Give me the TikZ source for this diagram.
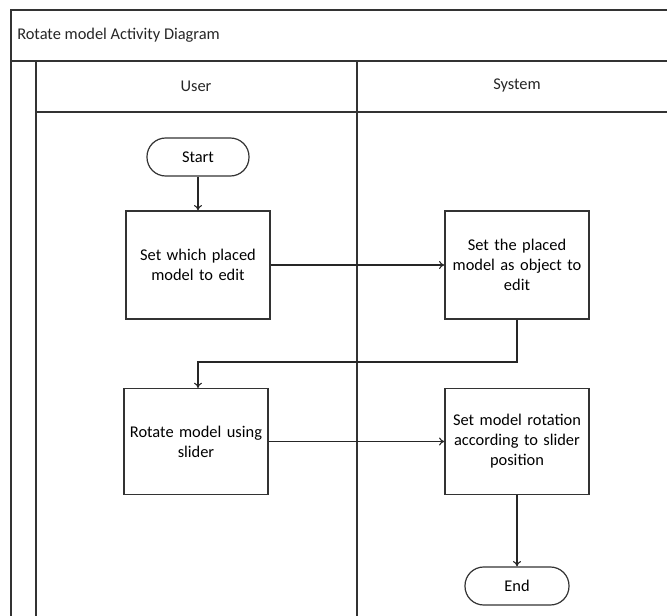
\documentclass[tikz,border=0pt]{standalone}
\usepackage{fontspec}
\setmainfont{Carlito}
\usetikzlibrary{arrows.meta}
\begin{document}
\begin{tikzpicture}[x=0.75pt,y=-0.75pt,
  frame/.style={draw=black!80,line width=1pt},
  act/.style={draw=black!80,line width=0.9pt,minimum width=108pt,minimum height=81pt,align=center,font=\fontsize{12.3}{15}\selectfont,inner sep=2pt,text width=104pt},
  term/.style={draw=black!80,line width=0.9pt,minimum width=76.5pt,minimum height=28.5pt,rounded corners=14pt,font=\fontsize{12.3}{15}\selectfont},
  flow/.style={draw=black!85,line width=0.8pt,-{To[length=4pt,width=6pt]}},
  lbl/.style={font=\fontsize{12.3}{14}\selectfont,text=black!85,inner sep=0pt}]
\useasboundingbox (0,0) rectangle (667,616);
% frame
\draw[frame] (11,616) -- (11,10) -- (667,10);
\draw[frame] (11,61) -- (667,61);
\draw[frame] (36,112) -- (667,112);
\draw[frame] (36,61) -- (36,616);
\draw[frame] (357,61) -- (357,616);
\node[lbl,anchor=west] (title) at (17,35) {Rotate model Activity Diagram};
\node[lbl] (user) at (196,86) {User};
\node[lbl] (system) at (517,86) {System};
% nodes
\node[term] (start) at (198,157) {Start};
\node[act] (b1) at (198,265) {Set which placed\\model to edit};
\node[act] (b2) at (517,265) {Set the placed\\model as object to\\edit};
\node[act,minimum height=80pt] (b3) at (196,441.5) {Rotate model using\\slider};
\node[act,minimum height=80pt] (b4) at (517,441.5) {Set model rotation\\according to slider\\position};
\node[term,minimum width=78pt] (end) at (517,586) {End};
\coordinate (c1) at (517,362);
\coordinate (c2) at (198,362);
\coordinate (b3t) at (198,388);
% connectors
\draw[flow] (start) -- (b1);
\draw[flow] (b1) -- (b2);
\draw[flow] (b2.south) -- (c1) -- (c2) -- (b3t);
\draw[flow] (b3) -- (b4);
\draw[flow] (b4) -- (end);
\end{tikzpicture}
\end{document}
